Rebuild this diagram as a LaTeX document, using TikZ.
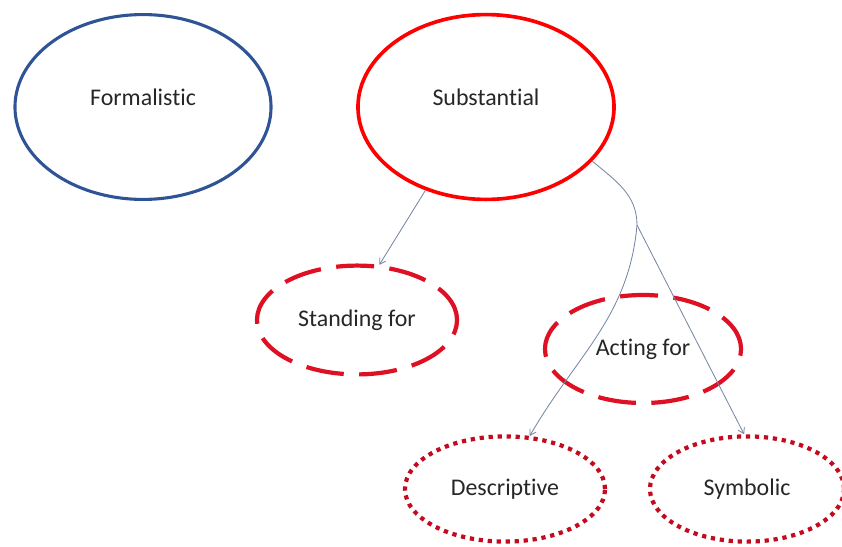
\documentclass[tikz,border=0pt]{standalone}
\usepackage{fontspec}
\setmainfont{Carlito}[Ligatures=NoCommon]
\usetikzlibrary{shapes.geometric,arrows.meta}

\definecolor{formblue}{RGB}{47,84,150}
\definecolor{dashred}{RGB}{222,16,36}
\definecolor{dotred}{RGB}{196,10,30}
\definecolor{linkgray}{RGB}{120,135,165}

\begin{document}
\begin{tikzpicture}[
    x=0.025cm, y=-0.025cm,
    % --- Styles ---
    base node/.style={ellipse, font=\fontsize{17}{20}\selectfont, text=black!85,
        text height=0.4cm, text depth=0.1cm},
    % Top row: label sits a little above the centre
    top node/.style={base node, line width=2.6pt, minimum width=6.4cm,
        minimum height=4.62cm, text depth=0.5cm},
    % Dashed red ellipses
    dashed node/.style={base node, draw=dashred, line width=3pt,
        dash pattern=on 27pt off 11pt, minimum width=5cm, minimum height=2.72cm},
    % Dotted red ellipses
    dotted node/.style={base node, draw=dotred, line width=3pt,
        dash pattern=on 3pt off 3.4pt, minimum width=5cm, minimum height=2.63cm},
    link line/.style={draw=linkgray, line width=0.6pt,
        -{Straight Barb[length=4pt,width=5pt]}}
]

%================CONFIGURATION================
\useasboundingbox (0,0) rectangle (842,546);
%=============================================

% --- Top row ---
\node[top node, draw=formblue, line width=2.2pt] (Form) at (143,107) {Formalistic};
\node[top node, draw=red] (Subst) at (486,107) {Substantial};

% --- Middle row ---
\node[dashed node] (Stand) at (357,320) {Standing for};
\node[dashed node, minimum width=4.9cm, minimum height=2.7cm] (Act) at (643,349) {Acting for};

% --- Bottom row ---
\node[dotted node] (Desc) at (505,489) {Descriptive};
\node[dotted node, minimum width=4.85cm] (Symb) at (747,489) {Symbolic};

% --- Connectors ---
\coordinate (Fork) at (637,225);

\draw[link line] (Subst.234) -- (Stand.68);
\draw[draw=linkgray, line width=0.6pt] (Subst.-27) to[out=-40, in=90] (Fork);
\draw[link line] (Fork) to[out=-95, in=60] (Desc.65);
\draw[link line] (Fork) -- (Symb.93);

\end{tikzpicture}
\end{document}
